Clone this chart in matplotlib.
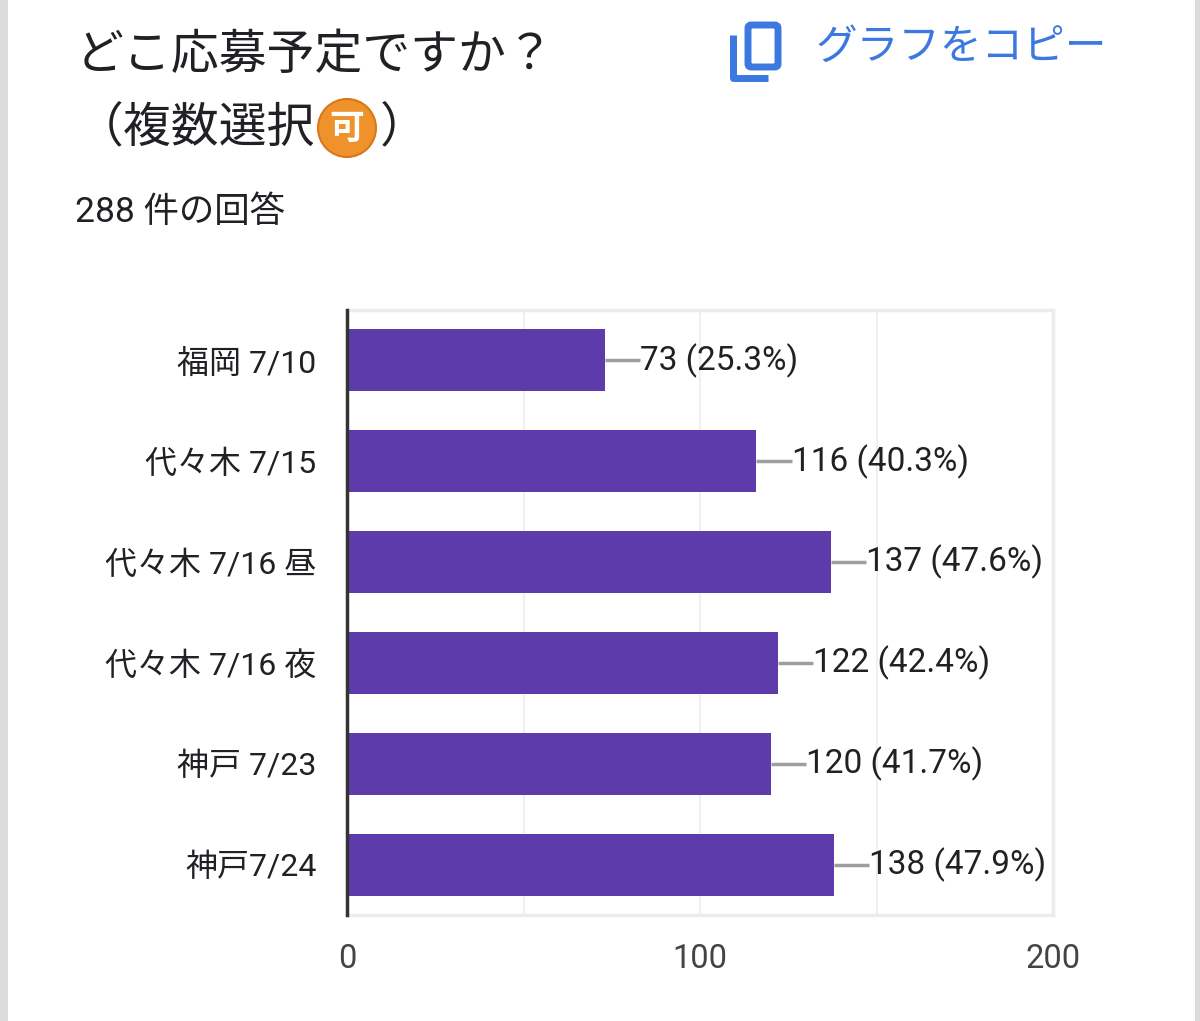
import matplotlib
matplotlib.use('Agg')
import matplotlib.pyplot as plt
from matplotlib import patches
from matplotlib.lines import Line2D

plt.rcParams['font.family'] = ['Roboto', 'Noto Sans CJK JP', 'DejaVu Sans']

# data
categories = ['福岡 7/10', '代々木 7/15', '代々木 7/16 昼', '代々木 7/16 夜', '神戸 7/23', '神戸7/24']
counts = [73, 116, 137, 122, 120, 138]
percents = [25.3, 40.3, 47.6, 42.4, 41.7, 47.9]
x_ticks = [0, 100, 200]

W, H = 1200, 1021
fig = plt.figure(figsize=(12, 10.21), dpi=100)
fig.patch.set_facecolor('white')


def px(x, y):
    # pixel coords (top-left origin) -> figure fraction
    return x / W, 1 - y / H


# side borders of the card
fig.add_artist(patches.Rectangle(px(0, H), 8 / W, 1, transform=fig.transFigure, color='#dcdcdc', lw=0))
fig.add_artist(patches.Rectangle(px(1195, H), 5 / W, 1, transform=fig.transFigure, color='#dcdcdc', lw=0))

# title
cjk = ['Noto Sans CJK JP', 'DejaVu Sans']
fig.text(*px(76, 55), 'どこ応募予定ですか？', fontsize=34.5, family=cjk, color='#202124', va='center', ha='left')
fig.text(*px(76, 128), '（複数選択', fontsize=34.5, family=cjk, color='#202124', va='center', ha='left')
cx, cy = px(347, 128)
fig.add_artist(patches.Ellipse((cx, cy), 58 / W, 58 / H, transform=fig.transFigure,
                               facecolor='#f0922b', edgecolor='#d9771a', lw=1.5))
fig.text(cx, cy, '可', fontsize=25, family=cjk, color='white', weight='bold', va='center', ha='center')
fig.text(*px(380, 128), '）', fontsize=34.5, family=cjk, color='#202124', va='center', ha='left')
fig.text(*px(75, 212), '288 件の回答', fontsize=25.5, color='#202124', va='center', ha='left')

# copy button
blue = '#3b78e0'
fig.add_artist(patches.FancyBboxPatch(px(748, 67), 30 / W, 42 / H, boxstyle='round,pad=0,rounding_size=0.003',
                                      transform=fig.transFigure, facecolor='none', edgecolor=blue, lw=5))
xs = [733 / W, 733 / W, 768 / W]
ys = [1 - 35 / H, 1 - 78 / H, 1 - 78 / H]
fig.add_artist(Line2D(xs, ys, transform=fig.transFigure, color=blue, lw=5, solid_capstyle='butt'))
fig.text(*px(816, 47), 'グラフをコピー', fontsize=30, family=cjk, color=blue, va='center', ha='left')

# chart
ax = fig.add_axes([347 / W, 106 / H, 706 / W, 605 / H])
y_pos = list(range(len(categories)))
ax.barh(y_pos, counts, height=0.615, color='#5e3bab', zorder=3)
ax.set_xlim(0, 200)
ax.set_ylim(len(categories) - 0.5, -0.5)

for y, c, p in zip(y_pos, counts, percents):
    ax.plot([c, c + 10], [y, y], color='#9e9e9e', lw=2.5, zorder=2, solid_capstyle='butt')
    ax.text(c + 10, y, f'{c} ({p}%)', fontsize=24, color='#202124', va='center', ha='left')

ax.set_yticks(y_pos)
ax.set_yticklabels(categories, fontsize=23, color='#202124')
ax.set_xticks(x_ticks)
ax.set_xticklabels([str(t) for t in x_ticks], fontsize=23.5, color='#444444')
ax.set_xticks([50, 150], minor=True)
ax.tick_params(axis='both', which='both', length=0)
ax.tick_params(axis='x', pad=20)
ax.tick_params(axis='y', pad=22)
ax.grid(axis='x', which='both', color='#f0f0f0', lw=1.5, zorder=0)

for side in ['top', 'right', 'bottom']:
    ax.spines[side].set_color('#ececec')
    ax.spines[side].set_linewidth(2.5)
ax.spines['left'].set_color('#333333')
ax.spines['left'].set_linewidth(2.5)
ax.spines['left'].set_zorder(4)

fig.savefig('out.png', dpi=100)
